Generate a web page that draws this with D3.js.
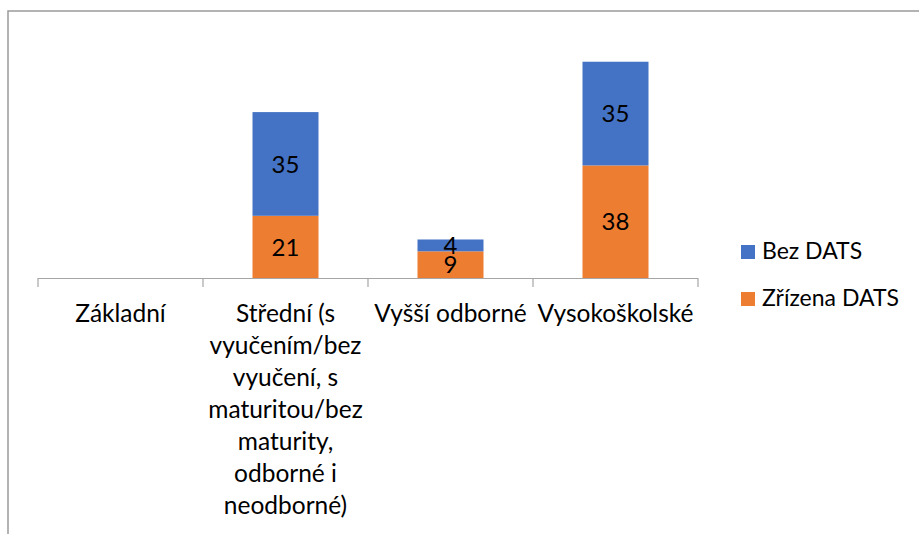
<!DOCTYPE html>
<html>
<head>
<meta charset="utf-8">
<script src="https://cdn.jsdelivr.net/npm/d3@7"></script>
<style>
  body { margin: 0; background: white; }
  text { font-family: Lato, "Noto Sans", sans-serif; fill: #000; }
</style>
</head>
<body>
<div id="chart"></div>
<script>
let width = 919;
let height = 534;

let categories = ["Základní",
  "Střední (s|vyučením/bez|vyučení, s|maturitou/bez|maturity,|odborné i|neodborné)",
  "Vyšší odborné", "Vysokoškolské"];
let seriesNames = ["Zřízena DATS", "Bez DATS"];
let zrizena = [0, 21, 9, 38];
let bez = [0, 35, 4, 35];

let colors = d3.scaleOrdinal().domain(seriesNames).range(["#ED7D31", "#4472C4"]);

let svg = d3.select("#chart")
	.append("svg")
	.attr("width", width)
	.attr("height", height)
	.style("background-color", "white");

// chart frame (cut off by the window on right and bottom)
svg.append("rect")
	.attr("x", 8).attr("y", 11)
	.attr("width", 1000).attr("height", 600)
	.attr("fill", "none")
	.attr("stroke", "#9a9a9a")
	.attr("stroke-width", 1.5);

let x = d3.scaleBand()
	.domain(categories)
	.range([38, 698])
	.padding(0);

let y = d3.scaleLinear()
	.domain([0, 80])
	.range([278, 41]);

let rows = categories.map(function(c, i){ return {cat: c, "Zřízena DATS": zrizena[i], "Bez DATS": bez[i]}; });
let stacked = d3.stack().keys(seriesNames)(rows);

let barW = x.bandwidth() * 0.4;

let layers = svg.append("g").selectAll("g")
	.data(stacked)
	.enter().append("g")
	.attr("fill", function(d){ return colors(d.key); });

layers.selectAll("rect")
	.data(function(d){ return d; })
	.enter().append("rect")
	.attr("x", function(d){ return x(d.data.cat) + (x.bandwidth() - barW) / 2; })
	.attr("y", function(d){ return y(d[1]); })
	.attr("width", barW)
	.attr("height", function(d){ return y(d[0]) - y(d[1]); });

layers.selectAll("text")
	.data(function(d){ return d.filter(function(p){ return p[1] - p[0] > 0; }); })
	.enter().append("text")
	.attr("x", function(d){ return x(d.data.cat) + x.bandwidth() / 2; })
	.attr("y", function(d){ return (y(d[0]) + y(d[1])) / 2; })
	.attr("dy", "0.36em")
	.attr("text-anchor", "middle")
	.style("font-size", "24px")
	.text(function(d){ return d[1] - d[0]; });

/*---------------- axis ----------------*/

svg.append("line")
	.attr("x1", 38).attr("x2", 698)
	.attr("y1", 278.5).attr("y2", 278.5)
	.attr("stroke", "#a6a6a6").attr("stroke-width", 1.2);

let tickPos = categories.map(function(c){ return x(c); }).concat([x.range()[1]]);
svg.selectAll(".tick")
	.data(tickPos)
	.enter().append("line")
	.attr("x1", function(d){ return d; }).attr("x2", function(d){ return d; })
	.attr("y1", 278).attr("y2", 287)
	.attr("stroke", "#a6a6a6").attr("stroke-width", 1.2);

let labels = svg.append("g").selectAll("text")
	.data(categories)
	.enter().append("text")
	.attr("x", function(d){ return x(d) + x.bandwidth() / 2; })
	.attr("y", 322)
	.attr("text-anchor", "middle")
	.style("font-size", "24.5px");

labels.each(function(d){
	let parts = d.split("|");
	d3.select(this).selectAll("tspan")
		.data(parts)
		.enter().append("tspan")
		.attr("x", x(d) + x.bandwidth() / 2)
		.attr("dy", function(p, i){ return i === 0 ? 0 : 32; })
		.text(function(p){ return p; });
});

/*---------------- legend ----------------*/

let legend = svg.append("g").selectAll("g")
	.data(seriesNames.slice().reverse())
	.enter().append("g")
	.attr("transform", function(d, i){ return "translate(741," + (245 + i * 47) + ")"; });

legend.append("rect")
	.attr("width", 14)
	.attr("height", 14)
	.attr("fill", function(d){ return colors(d); });

legend.append("text")
	.attr("x", 21)
	.attr("y", 14)
	.style("font-size", "23px")
	.text(function(d){ return d; });
</script>
</body>
</html>
